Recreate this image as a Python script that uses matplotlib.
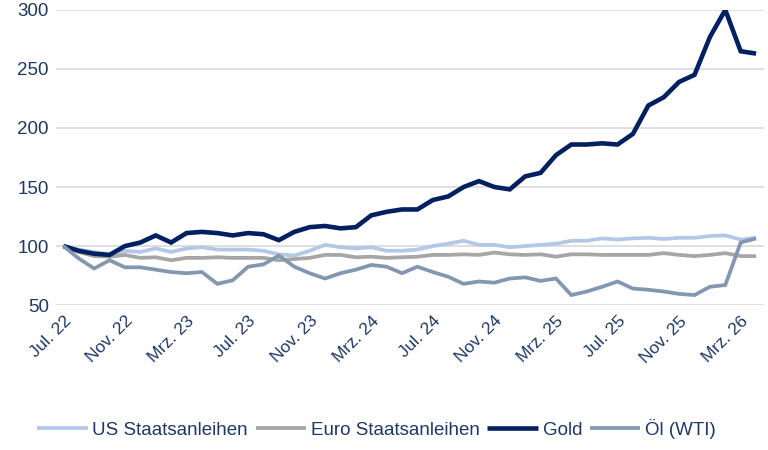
"""
Indexed performance (Jul. 22 = 100): US/Euro government bonds, gold and WTI oil
"""

import matplotlib
matplotlib.use('Agg')
import matplotlib.pyplot as plt
import numpy as np

# Monthly index values, Jul. 22 .. Apr. 26 (46 points)
us_bonds = [100, 97, 95, 93, 96, 95, 98, 95, 98, 99, 97, 97, 97, 96, 93, 92,
            96, 101, 99, 98, 99, 96, 96, 97, 100, 102, 104.5, 101, 101, 99,
            100, 101, 102, 104.5, 104.5, 106.5, 105.5, 106.5, 107, 106, 107,
            107, 108.5, 109, 105.5, 107]
euro_bonds = [100, 95, 91.5, 91, 92.5, 90, 90.5, 88, 90, 90, 90.5, 90, 90, 90,
              88, 89, 90, 92.5, 92.5, 90.5, 91, 90, 90.5, 91, 92.5, 92.5, 93,
              92.5, 94.5, 93, 92.5, 93, 91, 93, 93, 92.5, 92.5, 92.5, 92.5, 94,
              92.5, 91.5, 92.5, 94, 91.5, 91.5]
gold = [100, 96, 93.5, 92.5, 100, 103, 109, 103, 111, 112, 111, 109, 111, 110,
        105, 112, 116, 117, 115, 116, 126, 129, 131, 131, 139, 142, 150, 155,
        150, 148, 159, 162, 177, 186, 186, 187, 186, 195, 219, 226, 239, 245,
        277, 300, 265, 263]
oil = [100, 89.5, 81, 88, 82, 82, 80, 78, 77, 78, 68, 71, 82.5, 84.5, 92, 82.5,
       77, 72.5, 77, 80, 84, 82.5, 77, 82.5, 78, 74, 68, 70, 69, 72.5, 73.5,
       70.5, 72.5, 58.5, 61.5, 65.5, 70, 64, 63, 61.5, 59.5, 58.5, 65.5, 67,
       103, 106.5]

tick_labels = ['Jul. 22', 'Nov. 22', 'Mrz. 23', 'Jul. 23', 'Nov. 23', 'Mrz. 24',
               'Jul. 24', 'Nov. 24', 'Mrz. 25', 'Jul. 25', 'Nov. 25', 'Mrz. 26']
series_names = ['US Staatsanleihen', 'Euro Staatsanleihen', 'Gold', 'Öl (WTI)']
colors = ['#B4C7E7', '#A6A6A6', '#002060', '#8497B0']

text_color = '#1F3864'
plt.rcParams['font.family'] = ['Liberation Sans', 'DejaVu Sans']

fig = plt.figure(figsize=(7.68, 4.5), dpi=100)
ax = fig.add_axes([0.0725, 0.322, 0.922, 0.656])

x = np.arange(len(gold))
for values, name, color in zip([us_bonds, euro_bonds, gold, oil], series_names, colors):
    lw = 3.3 if name == 'Gold' else 2.7
    ax.plot(x, values, color=color, linewidth=lw, label=name,
            solid_joinstyle='miter', solid_capstyle='butt')

ax.set_xlim(-0.5, len(gold) - 0.5)
ax.set_ylim(50, 300)
ax.set_yticks(np.arange(50, 301, 50))
ax.set_xticks(np.arange(0, len(gold), 4))
ax.set_xticklabels(tick_labels, rotation=45, ha='right', rotation_mode='anchor')

ax.grid(axis='y', color='#D9D9D9', linewidth=1.2)
ax.set_axisbelow(True)
for spine in ax.spines.values():
    spine.set_visible(False)
ax.tick_params(axis='both', length=0, labelsize=12.5, colors=text_color)
ax.tick_params(axis='y', pad=5, labelsize=13.5)
ax.tick_params(axis='x', pad=6)

fig.legend(loc='lower center', bbox_to_anchor=(0.49, -0.012), ncol=4, frameon=False,
           handlelength=2.7, handletextpad=0.25, columnspacing=0.4,
           prop={'size': 13.5}, labelcolor=text_color)

fig.savefig('out.png', dpi=100)
